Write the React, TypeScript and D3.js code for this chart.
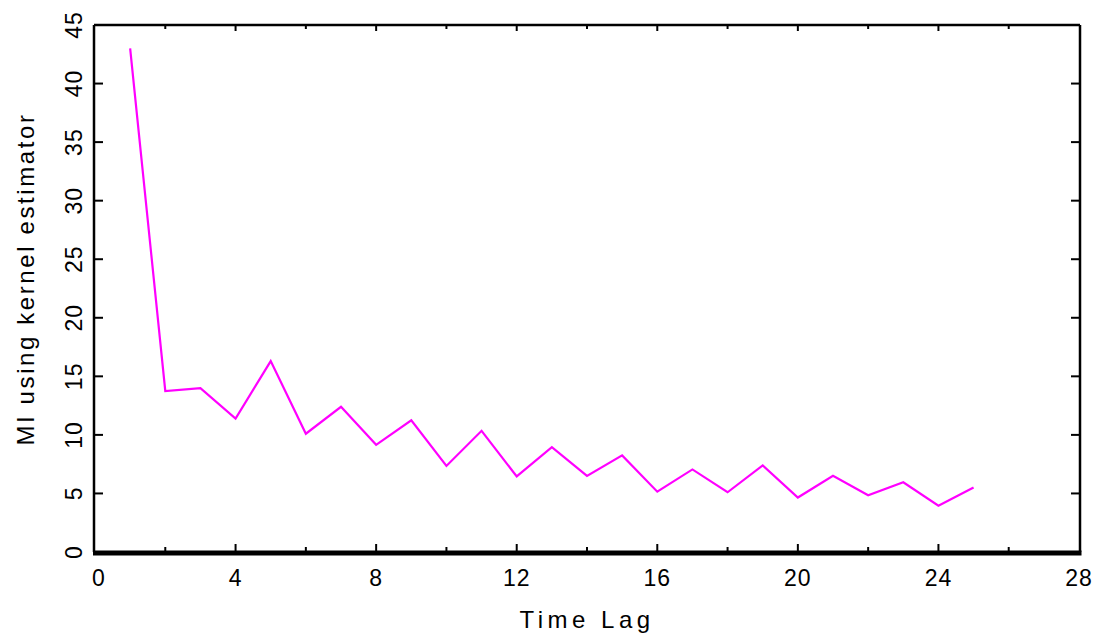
import React, { useRef, useEffect } from 'react';
import * as d3 from 'd3';

const { select, scaleLinear, line, range } = d3;

// lag values (x) and the mutual information (y)
const lags = [1, 2, 3, 4, 5, 6, 7, 8, 9, 10, 11, 12, 13, 14, 15, 16, 17, 18, 19, 20, 21, 22, 23, 24, 25];
const miValues = [
  43.0, 13.75, 14.0, 11.4, 16.3, 10.1, 12.4, 9.15, 11.25, 7.35, 10.35, 6.45, 8.95,
  6.5, 8.25, 5.15, 7.05, 5.1, 7.4, 4.65, 6.5, 4.85, 5.95, 3.95, 5.5,
];
const xTickLabels = [0, 4, 8, 12, 16, 20, 24, 28];
const xMinorTicks = [2, 6, 10, 14, 18, 22, 26];
const yTickLabels = [0, 5, 10, 15, 20, 25, 30, 35, 40, 45];

const xTitle = 'Time Lag';
const yTitle = 'MI using kernel estimator';

const WIDTH = 1099;
const HEIGHT = 639;
const FONT = `'Liberation Sans', Arial, sans-serif`;

export default function App() {
  const ref = useRef(null);

  useEffect(() => {
    if (!ref.current) return;
    const svg = select(ref.current);
    svg.selectAll('*').remove();

    const x = scaleLinear().domain([0, 28]).range([95, 1079]);
    const y = scaleLinear().domain([0, 45]).range([552, 25]);

    const [x0, x1] = x.range();
    const [yBottom, yTop] = y.range();

    // frame
    const frame = svg.append('g').attr('stroke', '#000').attr('fill', 'none');
    frame.append('line').attr('x1', x0 - 1).attr('x2', x1 + 1).attr('y1', yTop).attr('y2', yTop).attr('stroke-width', 2.5);
    frame.append('line').attr('x1', x0 - 1).attr('x2', x0 - 1).attr('y1', yTop).attr('y2', yBottom).attr('stroke-width', 2.5);
    frame.append('line').attr('x1', x1 + 1).attr('x2', x1 + 1).attr('y1', yTop).attr('y2', yBottom).attr('stroke-width', 2.5);
    frame.append('line').attr('x1', x0 - 2).attr('x2', x1 + 2.5).attr('y1', yBottom + 1).attr('y2', yBottom + 1).attr('stroke-width', 5);

    // x ticks, bottom (up) and top (down)
    const allX = range(0, 29, 2).filter(v => v > 0 && v < 28);
    frame.selectAll('line.xb')
      .data(allX)
      .enter()
      .append('line')
      .attr('class', 'xb')
      .attr('x1', d => x(d))
      .attr('x2', d => x(d))
      .attr('y1', yBottom)
      .attr('y2', d => yBottom - (xMinorTicks.includes(d) ? 5 : 8))
      .attr('stroke-width', 2);
    frame.selectAll('line.xt')
      .data(allX)
      .enter()
      .append('line')
      .attr('class', 'xt')
      .attr('x1', d => x(d))
      .attr('x2', d => x(d))
      .attr('y1', yTop)
      .attr('y2', d => yTop + (xMinorTicks.includes(d) ? 4 : 6))
      .attr('stroke-width', 2);

    // y ticks, left and right
    const innerY = yTickLabels.filter(v => v > 0 && v < 45);
    frame.selectAll('line.yl')
      .data(innerY)
      .enter()
      .append('line')
      .attr('class', 'yl')
      .attr('x1', x0)
      .attr('x2', x0 + 8)
      .attr('y1', d => y(d))
      .attr('y2', d => y(d))
      .attr('stroke-width', 2);
    frame.selectAll('line.yr')
      .data(innerY)
      .enter()
      .append('line')
      .attr('class', 'yr')
      .attr('x1', x1)
      .attr('x2', x1 - 8)
      .attr('y1', d => y(d))
      .attr('y2', d => y(d))
      .attr('stroke-width', 2);

    // tick labels
    svg.append('g')
      .selectAll('text')
      .data(xTickLabels)
      .enter()
      .append('text')
      .attr('x', d => x(d) + (d === 0 ? 4 : 0))
      .attr('y', 586)
      .attr('text-anchor', 'middle')
      .style('font-family', FONT)
      .style('font-size', '23px')
      .style('letter-spacing', '1px')
      .text(d => d);

    svg.append('g')
      .selectAll('text')
      .data(yTickLabels)
      .enter()
      .append('text')
      .attr('transform', d => `translate(82, ${y(d)}) rotate(-90)`)
      .attr('text-anchor', 'middle')
      .style('font-family', FONT)
      .style('font-size', '23px')
      .style('letter-spacing', '1px')
      .text(d => d);

    // titles
    svg.append('text')
      .attr('x', 587)
      .attr('y', 628)
      .attr('text-anchor', 'middle')
      .style('font-family', FONT)
      .style('font-size', '24px')
      .style('letter-spacing', '4.5px')
      .text(xTitle);

    svg.append('text')
      .attr('transform', `translate(34, 279) rotate(-90)`)
      .attr('text-anchor', 'middle')
      .style('font-family', FONT)
      .style('font-size', '24px')
      .style('letter-spacing', '2.6px')
      .text(yTitle);

    // data line
    const pts = lags.map((l, i) => [l, miValues[i]] as [number, number]);
    svg.append('path')
      .datum(pts)
      .attr('fill', 'none')
      .attr('stroke', '#ff00ff')
      .attr('stroke-width', 2.2)
      .attr('d', line<[number, number]>().x(d => x(d[0])).y(d => y(d[1])));
  }, []);

  return (
    <svg
      ref={ref}
      width={WIDTH}
      height={HEIGHT}
      style={{ position: 'absolute', left: 0, top: 0, background: '#fff' }}
    />
  );
}
